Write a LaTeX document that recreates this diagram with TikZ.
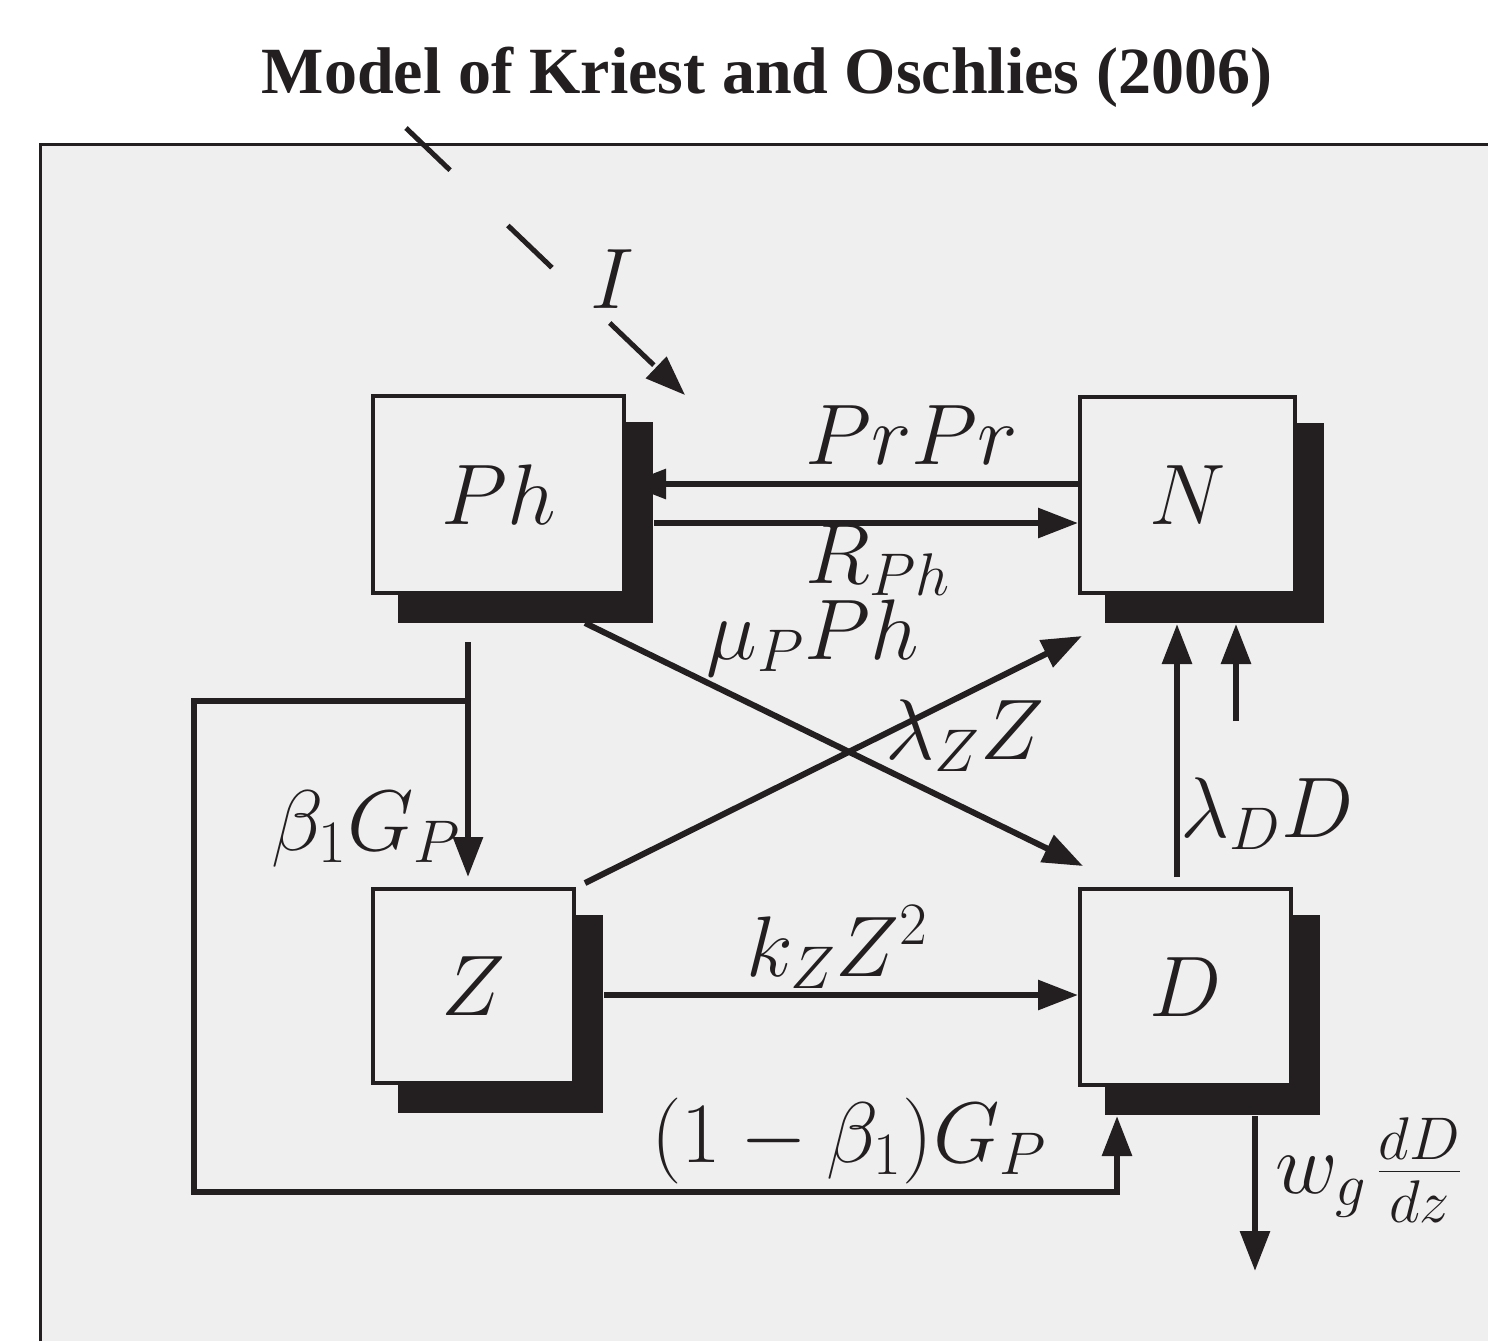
\RequirePackage{fix-cm}
\documentclass[tikz,border=0pt]{standalone}
\usepackage{fontspec}
\newfontfamily\titlefont{Liberation Serif}
\usetikzlibrary{arrows.meta}
\definecolor{ink}{HTML}{231F20}
\definecolor{bgc}{HTML}{EFEFEF}
\pgfdeclarelayer{back}
\pgfdeclarelayer{under}
\pgfdeclarelayer{shadowlayer}
\pgfsetlayers{back,under,shadowlayer,main}
\tikzset{
  boxnode/.style={draw=ink, fill=bgc, line width=2pt, inner sep=0pt, outer sep=1pt,
    font=\fontsize{43}{50}\selectfont, text=ink},
  lab/.style={font=\fontsize{43}{50}\selectfont, inner sep=0pt, anchor=base west, text=ink},
  arr/.style={draw=ink, line width=3pt, -{Triangle[length=20pt,width=14.5pt]}},
  plainline/.style={draw=ink, line width=3pt},
  shadowfill/.style={fill=ink}
}
\begin{document}
\begin{tikzpicture}[x=0.5pt,y=-0.5pt]
\useasboundingbox (0,0) rectangle (1488,1341);
% frame
\begin{pgfonlayer}{back}
  \fill[bgc] (40,144) rectangle (1488,1341);
  \draw[ink, line width=1.5pt] (40,1341) -- (40,144) -- (1488,144);
\end{pgfonlayer}
% title
\node[anchor=base, inner sep=0pt, text=ink, font=\titlefont\bfseries\fontsize{33}{40}\selectfont] (title) at (767,93) {Model of Kriest and Oschlies (2006)};
% boxes
\node[boxnode, minimum width=125.5pt, minimum height=98.5pt] (Ph) at (498.5,494.5) {$Ph$};
\node[boxnode, minimum width=107.5pt, minimum height=98pt] (N) at (1187.5,495) {$N$};
\node[boxnode, minimum width=100.5pt, minimum height=97pt] (Z) at (473.5,986) {$Z$};
\node[boxnode, minimum width=105.5pt, minimum height=98pt] (D) at (1185.5,987) {$D$};
% shadows
\begin{pgfonlayer}{shadowlayer}
  \foreach \b in {Ph,N,Z,D}{
    \fill[shadowfill] ([shift={(27,28)}]\b.north west) rectangle ([shift={(27,28)}]\b.south east);
  }
\end{pgfonlayer}
% coordinates
\coordinate (a1) at ([yshift=5.5pt]N.west);
\coordinate (b1) at ([xshift=14pt,yshift=-14.25pt]Ph.east);
\coordinate (mu1) at ([xshift=43.25pt,yshift=-14pt]Ph.south);
\coordinate (mu2) at ([xshift=-51.25pt,yshift=10.5pt]D.north);
\coordinate (lz1) at ([xshift=55.75pt,yshift=2pt]Z.north);
\coordinate (lz2) at ([xshift=-52.75pt,yshift=-20.5pt]N.south);
\coordinate (c1) at ([xshift=-15.25pt,yshift=-23.5pt]Ph.south);
\coordinate (c2) at ([yshift=5pt]Z.north);
\coordinate (j1) at ([yshift=-29.5pt]c1);
\coordinate (j2) at (194,701);
\coordinate (j3) at (194,1192);
\coordinate (Dsb) at ([yshift=-14.5pt]D.south);
\coordinate (l4) at ([xshift=-34.25pt]Dsb);
\coordinate (k1) at ([xshift=14pt,yshift=-4.5pt]Z.east);
\coordinate (Nsb) at ([yshift=-14.5pt]N.south);
\coordinate (d1) at ([xshift=-4.25pt,yshift=5pt]D.north);
\coordinate (e1) at (1236,721);
\coordinate (s1) at ([xshift=34.75pt]Dsb);
\coordinate (s2) at (1255,1271);
\coordinate (i1) at (406,128);
\coordinate (i2) at ([xshift=29.5pt,yshift=-0.5pt]Ph.north east);
% connectors
\begin{pgfonlayer}{under}
  \draw[arr] (a1) -- (a1 -| Ph.east);
\end{pgfonlayer}
\draw[arr] (b1) -- (b1 -| N.west);
\draw[arr] (mu1) -- (mu2);
\draw[arr] (lz1) -- (lz2);
\draw[arr] (c1) -- (c1 |- c2);
\draw[arr] (j1) -- (j2) -- (j3) -- (j3 -| l4) -- (l4);
\draw[arr] (k1) -- (k1 -| D.west);
\draw[arr] (d1) -- (d1 |- Nsb);
\draw[arr] (e1) -- (e1 |- Nsb);
\draw[arr] (s1) -- (s2);
\draw[arr, line width=2.5pt, dash pattern=on 30.5pt off 40pt] (i1) -- (i2);
% labels
\node[lab] (lI) at (590,308) {$I$};
\node[lab] (lPr) at (805,464) {$PrPr$};
\node[lab] (lR) at (805,583) {$R_{Ph}$};
\node[lab] (lmu) at (706,659) {$\mu_P Ph$};
\node[lab] (llz) at (885,759) {$\lambda_Z Z$};
\node[lab] (lld) at (1180,837) {$\lambda_D D$};
\node[lab] (lkz) at (746,976) {$k_Z Z^2$};
\node[lab] (lbg) at (651,1162) {$(1-\beta_1)G_P$};
\node[lab] (lb1) at (271,850) {$\beta_1 G_P$};
\node[lab] (lw) at (1275,1193) {$w_g\mkern2mu\frac{dD}{dz}$};
\end{tikzpicture}
\end{document}
